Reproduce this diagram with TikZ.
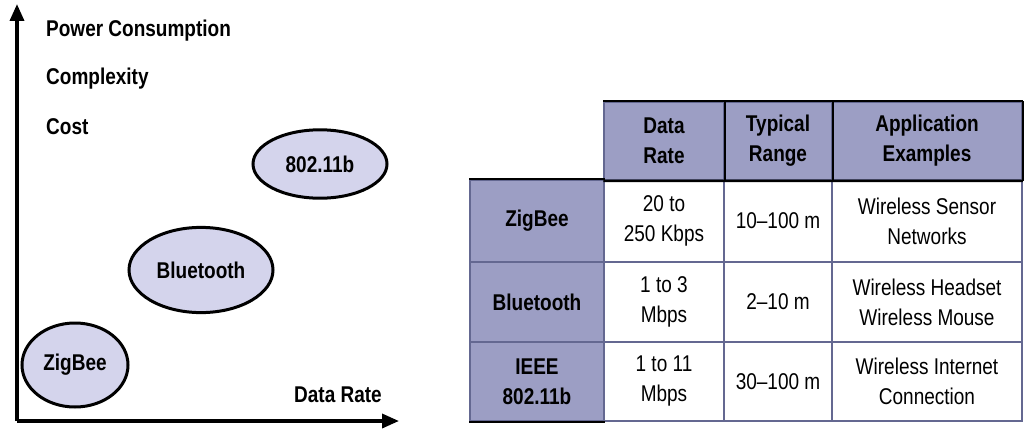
\documentclass[tikz,border=0pt]{standalone}
\usepackage{fontspec}
\setmainfont{Liberation Sans}
\usetikzlibrary{shapes.geometric,arrows.meta}
\definecolor{headblue}{RGB}{156,158,196}
\definecolor{ovalfill}{RGB}{212,212,236}
\definecolor{gridline}{RGB}{100,104,145}
\tikzset{
  lbl/.style={font=\fontsize{19}{25}\selectfont\bfseries, yscale=1.2, inner sep=0pt},
  oval/.style={ellipse, draw=black, line width=3pt, fill=ovalfill, inner sep=0pt,
    yscale=1.2, font=\fontsize{19}{22}\selectfont\bfseries},
  cell/.style={draw=gridline, line width=1.5pt, inner sep=0pt, align=center,
    yscale=1.2, font=\fontsize{19}{25}\selectfont},
  headcell/.style={cell, fill=headblue, font=\fontsize{19}{25}\selectfont\bfseries},
  heavy/.style={line width=2.5pt, black},
  axis/.style={line width=3.5pt, -{Triangle[length=17pt,width=14pt]}},
}
\begin{document}
\begin{tikzpicture}[x=1pt,y=-1pt]
  \useasboundingbox (0,0) rectangle (1024,428);
  % axes
  \coordinate (origin) at (17,421);
  \coordinate (ytop) at (17,4);
  \coordinate (xend) at (399,421);
  \draw[axis] (origin) -- (ytop);
  \draw[axis] (origin) -- (xend);
  \node[lbl, anchor=west] (power) at (46,31) {Power Consumption};
  \node[lbl, anchor=west] (complex) at (46,79) {Complexity};
  \node[lbl, anchor=west] (cost) at (46,127) {Cost};
  \node[lbl, anchor=east] (xlabel) at (382,395) {Data Rate};
  % standards
  \node[oval, minimum width=134pt, minimum height=57pt] (wifi) at (320,164) {802.11b};
  \node[oval, minimum width=144pt, minimum height=71pt] (bt) at (201,270) {Bluetooth};
  \node[oval, minimum width=106pt, minimum height=70pt] (zb) at (75,365) {ZigBee};
  % table, header row
  \node[headcell, minimum width=120pt, minimum height=65pt] (hrate) at (664,141) {Data\\Rate};
  \node[headcell, minimum width=108pt, minimum height=65pt] (hrange) at (778,141) {Typical\\Range};
  \node[headcell, minimum width=190pt, minimum height=65pt] (hexam) at (927,141) {Application\\Examples};
  % row heads
  \node[headcell, minimum width=134pt, minimum height=68.3pt] (zig) at (537,221) {ZigBee};
  \node[headcell, minimum width=134pt, minimum height=66.7pt] (blue) at (537,302) {Bluetooth};
  \node[headcell, minimum width=134pt, minimum height=65.8pt] (ieee) at (537,381.5) {IEEE\\802.11b};
  % data cells
  \node[cell, minimum width=120pt, minimum height=68.3pt] (zigrate) at (664,221) {20 to\\250 Kbps};
  \node[cell, minimum width=108pt, minimum height=68.3pt] (zigrange) at (778,221) {10--100 m};
  \node[cell, minimum width=190pt, minimum height=68.3pt] (zigapp) at (927,221) {Wireless Sensor\\Networks};
  \node[cell, minimum width=120pt, minimum height=66.7pt] (bluerate) at (664,302) {1 to 3\\Mbps};
  \node[cell, minimum width=108pt, minimum height=66.7pt] (bluerange) at (778,302) {2--10 m};
  \node[cell, minimum width=190pt, minimum height=66.7pt] (blueapp) at (927,302) {Wireless Headset\\Wireless Mouse};
  \node[cell, minimum width=120pt, minimum height=65.8pt] (ieeerate) at (664,381.5) {1 to 11\\Mbps};
  \node[cell, minimum width=108pt, minimum height=65.8pt] (ieeerange) at (778,381.5) {30--100 m};
  \node[cell, minimum width=190pt, minimum height=65.8pt] (ieeeapp) at (927,381.5) {Wireless Internet\\Connection};
  % dark rules
  \draw[heavy] (hrate.north west) -- (hexam.north east);
  \draw[heavy] (hrate.south west) -- (hexam.south east);
  \draw[heavy] (zig.north west) -- (zig.north east);
  \draw[heavy] (hrate.north east) -- (hrate.south east);
  \draw[heavy] (hrange.north east) -- (hrange.south east);
  \draw[heavy] (hexam.north east) -- (hexam.south east);
  \draw[heavy] (ieee.south west) -- (ieee.south east);
\end{tikzpicture}
\end{document}
